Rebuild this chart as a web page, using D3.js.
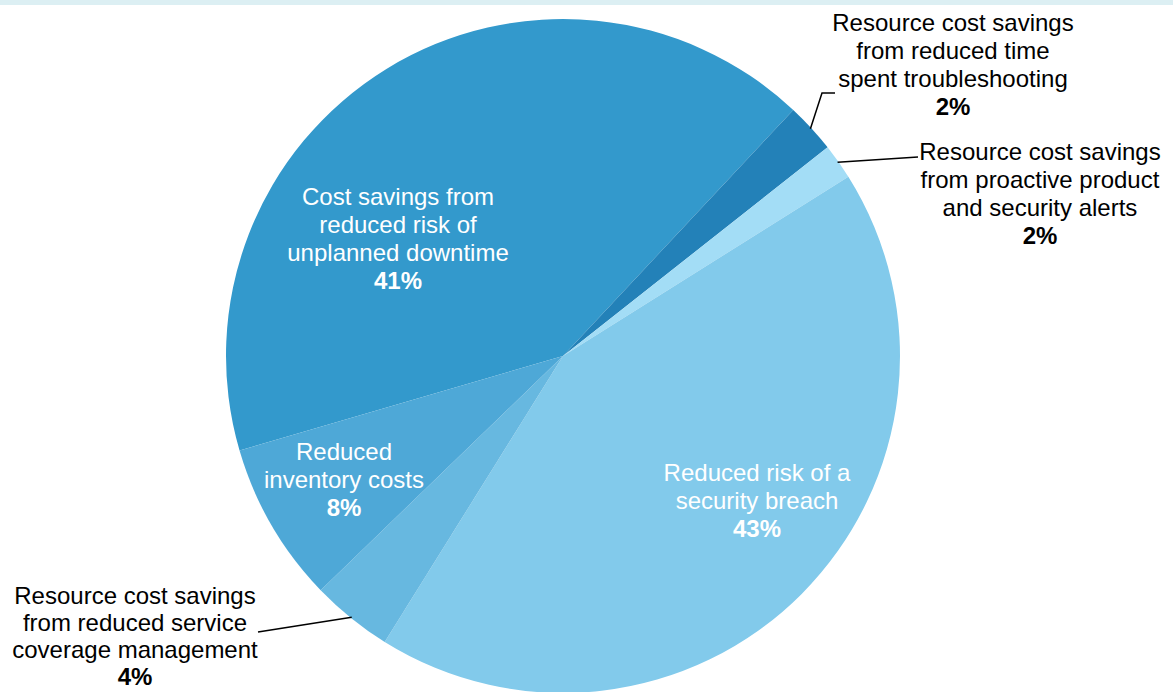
<!DOCTYPE html>
<html>
<head>
<meta charset="utf-8">
<script src="https://cdn.jsdelivr.net/npm/d3@7"></script>
<style>
  body { margin: 0; background: #fff; }
  svg { display: block; font-family: "Liberation Sans", Arial, sans-serif; }
</style>
</head>
<body>
<div id="chart"></div>
<script>
// slice data, clockwise from the lower-left edge
const categories = [
  ["Cost savings from", "reduced risk of", "unplanned downtime"],
  ["Resource cost savings", "from reduced time", "spent troubleshooting"],
  ["Resource cost savings", "from proactive product", "and security alerts"],
  ["Reduced risk of a", "security breach"],
  ["Resource cost savings", "from reduced service", "coverage management"],
  ["Reduced", "inventory costs"]
];
const values = [41.5, 2.4, 1.7, 42.8, 3.9, 7.7];
const pctLabels = ["41%", "2%", "2%", "43%", "4%", "8%"];
const colors = ["#3399cc", "#2381b8", "#a3ddf6", "#82caeb", "#67b8e0", "#4ea8d7"];

const width = 1173, height = 692;
const cx = 563, cy = 356, radius = 337;

// label layout: first line centre + leader end
const labelLayout = [
  { x: 398, y: 197, inside: true },
  { x: 953, y: 23, leader: [[822, 93], [835, 93]] },
  { x: 1040, y: 152, leader: [[918, 157]] },
  { x: 757, y: 473, inside: true },
  { x: 135, y: 596, lh: 27, leader: [[258, 632]] },
  { x: 344, y: 452, inside: true }
];

const svg = d3.select("#chart").append("svg")
  .attr("width", width)
  .attr("height", height);

svg.append("rect")
  .attr("x", 0).attr("y", 0)
  .attr("width", width).attr("height", 5)
  .attr("fill", "#dceff3");

const startAngle = -106.3 * Math.PI / 180;

const pie = d3.pie()
  .sort(null)
  .value(d => d)
  .startAngle(startAngle)
  .endAngle(startAngle + 2 * Math.PI);

const arcs = pie(values);
const arc = d3.arc().innerRadius(0).outerRadius(radius);

const g = svg.append("g").attr("transform", `translate(${cx},${cy})`);

g.selectAll("path.slice")
  .data(arcs)
  .enter()
  .append("path")
  .attr("class", "slice")
  .attr("d", arc)
  .attr("fill", (d, i) => colors[i]);

// leader lines from the slice edge mid-angle
arcs.forEach((d, i) => {
  const lay = labelLayout[i];
  if (!lay.leader) return;
  const mid = (d.startAngle + d.endAngle) / 2;
  const p0 = [cx + Math.sin(mid) * (radius - 1), cy - Math.cos(mid) * (radius - 1)];
  const pts = [p0].concat(lay.leader);
  svg.append("path")
    .attr("d", d3.line()(pts))
    .attr("fill", "none")
    .attr("stroke", "#000")
    .attr("stroke-width", 1.5);
});

labelLayout.forEach((lay, i) => {
  const lineH = lay.lh || 28;
  const col = lay.inside ? "#fff" : "#000";
  const t = svg.append("text")
    .attr("text-anchor", "middle")
    .attr("font-size", "24px")
    .attr("fill", col);
  const lines = categories[i];
  lines.forEach((s, k) => {
    t.append("tspan")
      .attr("x", lay.x)
      .attr("y", lay.y + k * lineH)
      .attr("dy", "0.35em")
      .text(s);
  });
  t.append("tspan")
    .attr("x", lay.x)
    .attr("y", lay.y + lines.length * lineH)
    .attr("dy", "0.35em")
    .attr("font-weight", "bold")
    .text(pctLabels[i]);
});
</script>
</body>
</html>
